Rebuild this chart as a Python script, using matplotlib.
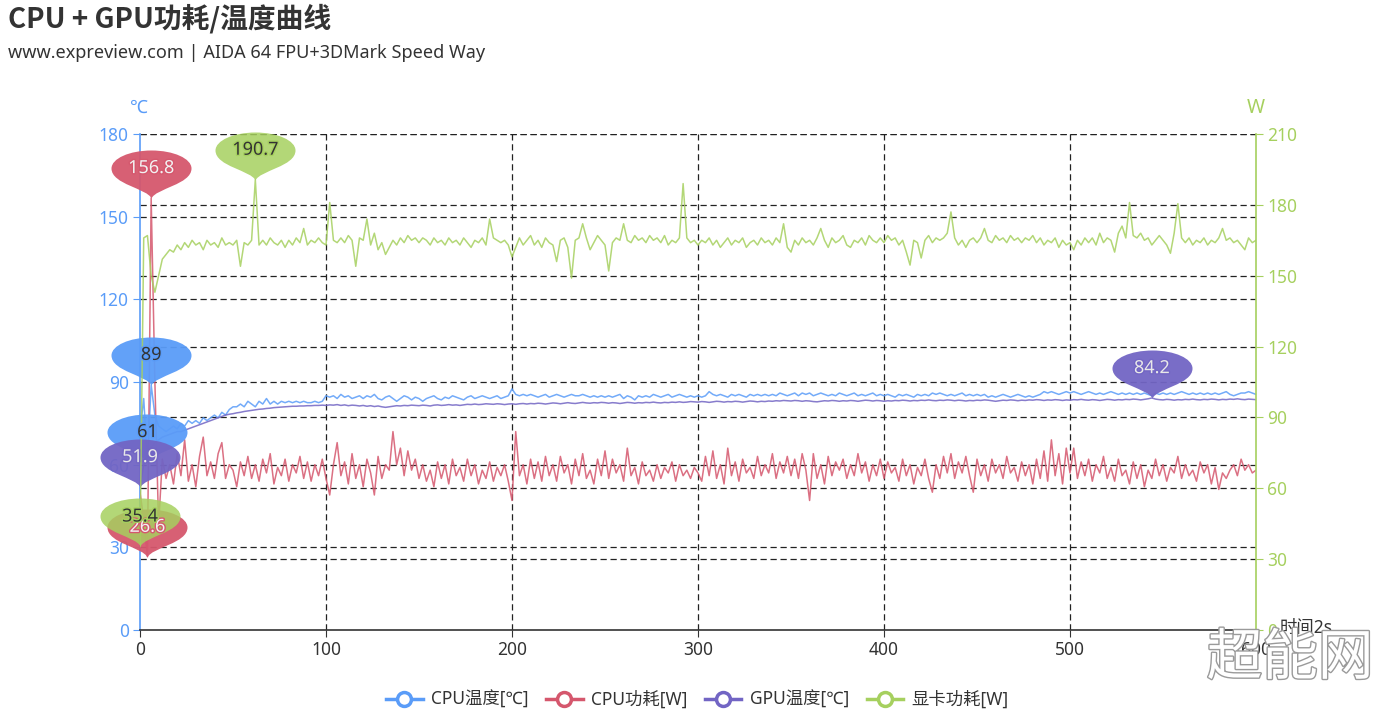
import matplotlib
matplotlib.use('Agg')
import matplotlib.pyplot as plt
import matplotlib.patheffects as pe
from matplotlib.path import Path
from matplotlib.lines import Line2D
import numpy as np

plt.rcParams['font.family'] = ['Noto Sans', 'Noto Sans CJK SC', 'DejaVu Sans']

# one sample every 2 units on the x axis (t = 0, 2, ..., 600)
cpu_temp = [
    72, 84, 61, 89, 78, 74, 73, 72, 73, 74, 73, 75, 74, 76, 75, 76, 75, 77, 76, 77, 78, 77, 79, 78, 80,
    81, 81, 82, 81, 83, 82, 81, 83, 82, 84, 82, 83, 82, 83, 82.5, 83, 82.5, 83, 82.5, 83, 82.5, 82.5, 83, 82.5, 83,
    85, 84.5, 85, 84, 85.5, 84.5, 85, 84, 84.5, 85, 84, 85, 84.5, 85.5, 84, 83.5, 84.5, 85, 84, 83, 84, 85, 84.5, 83.5, 84.5,
    84, 83, 84, 84.5, 85, 84, 83.5, 84.5, 84, 85, 84.5, 84, 83.5, 84.5, 85, 84, 84.5, 85, 84.5, 84, 84.5, 85, 84, 84.5, 85,
    87.5, 85.5, 85, 85.5, 85, 85.5, 85, 84.5, 85, 85.5, 84.5, 85, 85.5, 85, 84.5, 85, 85.5, 85, 85, 85.5, 85, 84.5, 85, 84.5, 85,
    84.5, 85, 84.5, 85, 85.5, 84, 85, 84.5, 83.5, 85, 84.5, 85, 84.5, 85.5, 85, 84.5, 85, 85.5, 84.5, 85, 85.5, 85, 84.5, 85, 84.5,
    85, 84.5, 85, 86.5, 85.5, 85, 85.5, 85, 84.5, 85.5, 85, 85.5, 85, 84.5, 85.5, 85, 85.5, 85, 85.5, 85, 85.5, 85, 86, 85.5, 85,
    85.5, 86, 85, 86, 85.5, 86, 85, 85.5, 86, 85.5, 85, 85.5, 85, 86, 85.5, 85, 85.5, 86, 85, 85.5, 85, 85.5, 86, 85, 85.5,
    85, 85.5, 85, 84.5, 85.5, 85, 85.5, 85, 84.5, 85.5, 85, 85.5, 85, 86, 85.5, 86, 85.5, 85, 85.5, 85, 85.5, 86, 85, 85.5, 85,
    85.5, 85, 85.5, 84.5, 85, 84.5, 85, 85.5, 85, 84.5, 85, 85.5, 85, 84.5, 85, 84.5, 85, 85.5, 86.5, 86, 86.5, 86, 85.5, 86, 86.5,
    86, 86.5, 86, 85.5, 86, 86.5, 86, 85.5, 86, 85.5, 86, 86.5, 86, 85.5, 86, 85.5, 86, 85.5, 86, 85.5, 86, 85.5, 85, 86, 85.5,
    86, 85.5, 86, 85.5, 86, 86.5, 86, 85.5, 86, 85.5, 86, 85.5, 86, 85.5, 86, 85.5, 86, 86.5, 85.5, 85, 85.5, 86, 86, 86.5, 86,
    85.5]

cpu_power = [
    50, 40, 26.6, 156.8, 90, 38, 62, 55, 60, 53, 64, 56, 69, 54, 60, 52, 63, 70, 56, 61, 55, 64, 68, 55, 60,
    58, 52, 61, 56, 63, 55, 60, 54, 62, 57, 64, 53, 59, 56, 62, 54, 60, 57, 63, 55, 61, 54, 60, 56, 62,
    55, 49, 60, 68, 56, 61, 53, 64, 55, 60, 52, 62, 57, 49, 63, 55, 60, 58, 72, 60, 66, 56, 65, 58, 62,
    55, 60, 54, 58, 52, 61, 55, 60, 53, 62, 56, 59, 54, 62, 56, 60, 53, 58, 55, 61, 54, 59, 56, 60, 54,
    47, 72, 56, 60, 53, 62, 55, 61, 54, 63, 56, 60, 54, 63, 57, 60, 53, 62, 56, 64, 55, 58, 53, 62, 56,
    65, 55, 62, 57, 60, 54, 66, 56, 59, 53, 61, 56, 58, 54, 60, 55, 59, 57, 61, 54, 60, 56, 58, 55, 59,
    57, 54, 63, 56, 65, 55, 60, 53, 66, 56, 61, 54, 62, 57, 59, 55, 63, 56, 60, 57, 64, 55, 61, 57, 63,
    56, 62, 55, 64, 58, 47, 64, 55, 60, 53, 63, 56, 61, 58, 62, 55, 60, 56, 64, 57, 61, 54, 60, 56, 62,
    55, 61, 57, 59, 54, 62, 56, 60, 53, 59, 56, 62, 55, 50, 60, 55, 63, 57, 64, 55, 61, 57, 63, 56, 50,
    62, 56, 60, 54, 62, 57, 60, 55, 63, 57, 59, 54, 61, 56, 60, 53, 62, 55, 65, 54, 69, 56, 64, 53, 66,
    57, 66, 55, 61, 56, 62, 54, 60, 57, 63, 55, 59, 54, 62, 56, 58, 53, 61, 55, 60, 52, 58, 55, 62, 56,
    60, 54, 59, 57, 63, 55, 60, 56, 58, 54, 61, 57, 60, 53, 59, 51, 57, 55, 58, 60, 56, 62, 58, 60, 57,
    58]

gpu_temp = [
    51.9, 60, 64, 66, 68, 69, 70, 70.5, 71, 71.5, 72, 72, 72.5, 73, 73.5, 74, 74.5, 75, 75.5, 76, 76.5, 77, 77.5, 78, 78.3,
    78.5, 78.8, 79, 79.3, 79.5, 79.7, 79.9, 80.1, 80.2, 80.4, 80.5, 80.7, 80.8, 80.9, 81, 81.1, 81.2, 81.2, 81.3, 81.3, 81.4, 81.4, 81.5, 81.5, 81.6,
    81.5, 81.7, 81.6, 81.8, 81.5, 81.7, 81.4, 81.6, 81.5, 81.3, 81.5, 81.2, 81.4, 81.1, 81.3, 81.0, 80.8, 81.0, 81.2, 81.4, 81.3, 81.5, 81.4, 81.6, 81.5,
    81.4, 81.6, 81.5, 81.3, 81.6, 81.7, 81.5, 81.6, 81.8, 81.6, 81.7, 81.5, 81.7, 81.9, 81.8, 82.0, 81.8, 81.9, 82.1, 82.0, 81.9, 82.1, 82.0, 81.8, 82.0,
    82.1, 81.9, 82.1, 82.2, 82.0, 82.2, 82.1, 82.3, 82.2, 82.0, 82.2, 82.4, 82.3, 82.1, 82.3, 82.5, 82.3, 82.2, 82.4, 82.6, 82.4, 82.3, 82.5, 82.4, 82.6,
    82.5, 82.3, 82.5, 82.4, 82.2, 82.4, 82.6, 82.5, 82.3, 82.5, 82.4, 82.6, 82.5, 82.7, 82.5, 82.4, 82.6, 82.5, 82.7, 82.6, 82.8, 82.6, 82.7, 82.9, 82.8,
    82.7, 82.9, 82.8, 82.6, 82.8, 83.0, 82.9, 82.7, 82.9, 82.8, 83.0, 82.9, 82.7, 82.9, 83.1, 83.0, 82.8, 83.0, 82.9, 83.1, 83.0, 83.2, 83.1, 83.3, 83.2,
    83.1, 83.3, 83.2, 83.0, 83.2, 83.1, 82.9, 82.8, 83.0, 83.2, 83.1, 83.3, 83.2, 83.0, 83.2, 83.1, 83.3, 83.2, 83.0, 83.2, 83.4, 83.3, 83.1, 83.3, 83.2,
    83.0, 83.2, 83.1, 83.3, 83.2, 83.4, 83.3, 83.1, 83.3, 83.2, 83.4, 83.3, 83.5, 83.3, 83.2, 83.4, 83.3, 83.5, 83.4, 83.2, 83.4, 83.3, 83.1, 83.3, 83.2,
    83.4, 83.3, 83.5, 83.4, 83.2, 83.0, 83.2, 83.4, 83.3, 83.5, 83.4, 83.2, 83.4, 83.3, 83.5, 83.4, 83.6, 83.5, 83.3, 83.5, 83.4, 83.6, 83.5, 83.3, 83.5,
    83.4, 83.6, 83.5, 83.7, 83.5, 83.4, 83.6, 83.5, 83.3, 83.5, 83.7, 83.6, 83.4, 83.6, 83.5, 83.7, 83.6, 83.8, 83.7, 83.5, 83.7, 83.9, 84.2, 83.8, 83.6,
    83.5, 83.7, 83.6, 83.4, 83.6, 83.5, 83.7, 83.6, 83.8, 83.6, 83.5, 83.7, 83.6, 83.8, 83.7, 83.5, 83.7, 83.6, 83.8, 83.7, 83.9, 83.7, 83.6, 83.8, 83.7,
    83.6]

gpu_power = [
    35.4, 166, 167, 150, 143, 150, 157, 159, 161, 160, 163, 161, 164, 162, 165, 163, 164, 161, 165, 163, 164, 162, 166, 163, 164,
    163, 165, 154, 164, 163, 165, 190.7, 163, 165, 163, 166, 164, 163, 165, 162, 165, 163, 166, 164, 170, 163, 165, 164, 166, 164,
    163, 181, 165, 164, 166, 164, 167, 165, 154, 166, 165, 174, 163, 168, 161, 164, 159, 162, 165, 163, 166, 164, 167, 165, 166,
    164, 166, 165, 163, 166, 164, 165, 163, 166, 164, 165, 163, 166, 164, 162, 165, 164, 166, 163, 174, 166, 165, 164, 165, 163,
    158, 162, 166, 163, 165, 167, 163, 165, 162, 166, 164, 163, 156, 165, 166, 162, 149, 165, 166, 172, 166, 161, 164, 167, 165,
    163, 152, 164, 166, 165, 172, 165, 164, 167, 165, 166, 164, 167, 165, 166, 164, 167, 163, 165, 164, 166, 189, 166, 164, 165,
    163, 165, 164, 166, 163, 165, 162, 164, 166, 163, 165, 164, 166, 162, 164, 165, 163, 166, 164, 165, 163, 166, 164, 172, 162,
    160, 165, 163, 166, 164, 165, 163, 166, 170, 165, 162, 166, 164, 165, 167, 163, 162, 165, 164, 166, 163, 167, 165, 164, 166,
    164, 167, 165, 166, 163, 165, 160, 154.5, 165, 164, 157.5, 165, 167, 164, 166, 165, 166, 168, 177, 166, 163, 165, 162, 165, 166,
    164, 166, 170, 165, 164, 167, 165, 166, 164, 167, 165, 166, 164, 166, 165, 167, 164, 166, 163, 165, 164, 166, 162, 165, 163,
    164, 161, 165, 163, 166, 164, 166, 163, 168, 164, 166, 165, 160, 168, 171, 166, 181, 167, 166, 168, 165, 166, 163, 165, 167,
    165, 163, 159.5, 168, 180.5, 166, 164, 166, 163, 165, 164, 166, 163, 165, 164, 166, 170, 165, 166, 164, 165, 163, 161, 166, 164,
    165]

series_names = ['CPU温度[℃]', 'CPU功耗[W]', 'GPU温度[℃]', '显卡功耗[W]']
x_ticks = [0, 100, 200, 300, 400, 500, 600]
left_ticks = [0, 30, 60, 90, 120, 150, 180]
right_ticks = [0, 30, 60, 90, 120, 150, 180, 210]

BLUE = '#5A9CF8'
RED = '#D5576D'
PURPLE = '#7265C4'
GREEN = '#A6D05F'

t = np.arange(len(cpu_temp)) * 2

fig = plt.figure(figsize=(13.95, 7.2), dpi=100)
ax = fig.add_axes([140/1395, 90/720, 1116/1395, 496/720])
ax2 = ax.twinx()

ax.set_xlim(0, 600)
ax.set_ylim(0, 180)
ax2.set_ylim(0, 210)

# dashed split lines for both y axes and the x axis, kept under the series
grid_kw = dict(color='#222222', lw=0.9, ls=(0, (5, 3)), zorder=1)
for v in left_ticks[1:]:
    ax.axhline(v, **grid_kw)
for w in right_ticks[1:]:
    ax.axhline(w * 180 / 210, **grid_kw)
for x in x_ticks[1:-1]:
    ax.axvline(x, **grid_kw)

ax.plot(t, cpu_temp, color=BLUE, lw=1.1, alpha=0.85, zorder=3)
ax.plot(t, cpu_power, color=RED, lw=1.1, alpha=0.85, zorder=3)
ax.plot(t, gpu_temp, color=PURPLE, lw=1.1, alpha=0.85, zorder=3)
ax2.plot(t, gpu_power, color=GREEN, lw=1.1, alpha=0.85, zorder=3)

# axes styling
ax.set_xticks(x_ticks)
ax.set_yticks(left_ticks)
ax2.set_yticks(right_ticks)
for s in ['top', 'right']:
    ax.spines[s].set_visible(False)
for s in ['top', 'left', 'bottom']:
    ax2.spines[s].set_visible(False)
ax.spines['left'].set_color(BLUE)
ax.spines['left'].set_linewidth(1.2)
ax.spines['bottom'].set_color('#333333')
ax.spines['bottom'].set_linewidth(1.2)
ax2.spines['right'].set_color(GREEN)
ax2.spines['right'].set_linewidth(1.2)
ax.tick_params(axis='y', colors=BLUE, labelsize=12.5, length=5, pad=3)
ax.tick_params(axis='x', colors='#333333', labelsize=12.5, length=5, pad=3)
ax2.tick_params(axis='y', colors=GREEN, labelsize=12.5, length=5, pad=3)

fig.text(139/1395, 1 - 108/720, '℃', color=BLUE, fontsize=13, ha='center', va='center')
fig.text(1256/1395, 1 - 108/720, 'W', color=GREEN, fontsize=14, ha='center', va='center')
fig.text(1280/1395, 1 - 628/720, '时间2s', color='#333333', fontsize=12.5, ha='left', va='center')

# pin shaped mark points with the tip on the data point
pin = Path([(0, 0), (-4, 10), (-40, 14), (-40, 30),
            (-40, 40), (-22, 48), (0, 48),
            (22, 48), (40, 40), (40, 30),
            (40, 14), (4, 10), (0, 0), (0, 0)],
           [Path.MOVETO] + [Path.CURVE4] * 12 + [Path.CLOSEPOLY])
pin_ms = 96 * 72 / fig.dpi

marks = [
    (cpu_power, ax, RED, '#f2f2f2', 0.95),
    (cpu_temp, ax, BLUE, '#333333', 0.95),
    (gpu_temp, ax, PURPLE, '#e8e8e8', 0.95),
    (gpu_power, ax2, GREEN, '#333333', 0.85),
]
for vals, a, col, tcol, alpha in marks:
    arr = np.array(vals)
    for i in [int(arr.argmax()), int(arr.argmin())]:
        a.plot(t[i], arr[i], marker=pin, ms=pin_ms, color=col, mew=0,
               alpha=alpha, clip_on=False, zorder=6)
        ax2.annotate(f'{arr[i]:g}', xy=(t[i], arr[i]), xycoords=a.transData,
                     xytext=(0, 21.5), textcoords='offset points',
                     ha='center', va='center', fontsize=13, color=tcol, zorder=10,
                     path_effects=[pe.withStroke(linewidth=2, foreground=col)])

# title and subtitle
fig.text(8/1395, 1 - 19/720, 'CPU + GPU功耗/温度曲线', fontsize=20, fontweight='bold',
         family=['Noto Sans CJK SC', 'DejaVu Sans'], color='#333333', ha='left', va='center')
fig.text(8/1395, 1 - 53/720, 'www.expreview.com | AIDA 64 FPU+3DMark Speed Way',
         fontsize=13, color='#333333', ha='left', va='center')

# legend
colors = [BLUE, RED, PURPLE, GREEN]
handles = [Line2D([], [], color=c, lw=2.5, marker='o', ms=10, mfc='white', mec=c, mew=2.5)
           for c in colors]
fig.legend(handles, series_names, loc='center', bbox_to_anchor=(0.5, 20/720), ncol=4,
           frameon=False, fontsize=12.5, handlelength=2.1, handletextpad=0.5,
           columnspacing=1.0, labelcolor='#333333')

# watermark
fig.text(1290/1395, 1 - 660/720, '超能网', fontsize=40, color='white', ha='center', va='center',
         path_effects=[pe.withStroke(linewidth=2, foreground='#9a9a9a')], zorder=20)

fig.savefig('out.png', dpi=100)
